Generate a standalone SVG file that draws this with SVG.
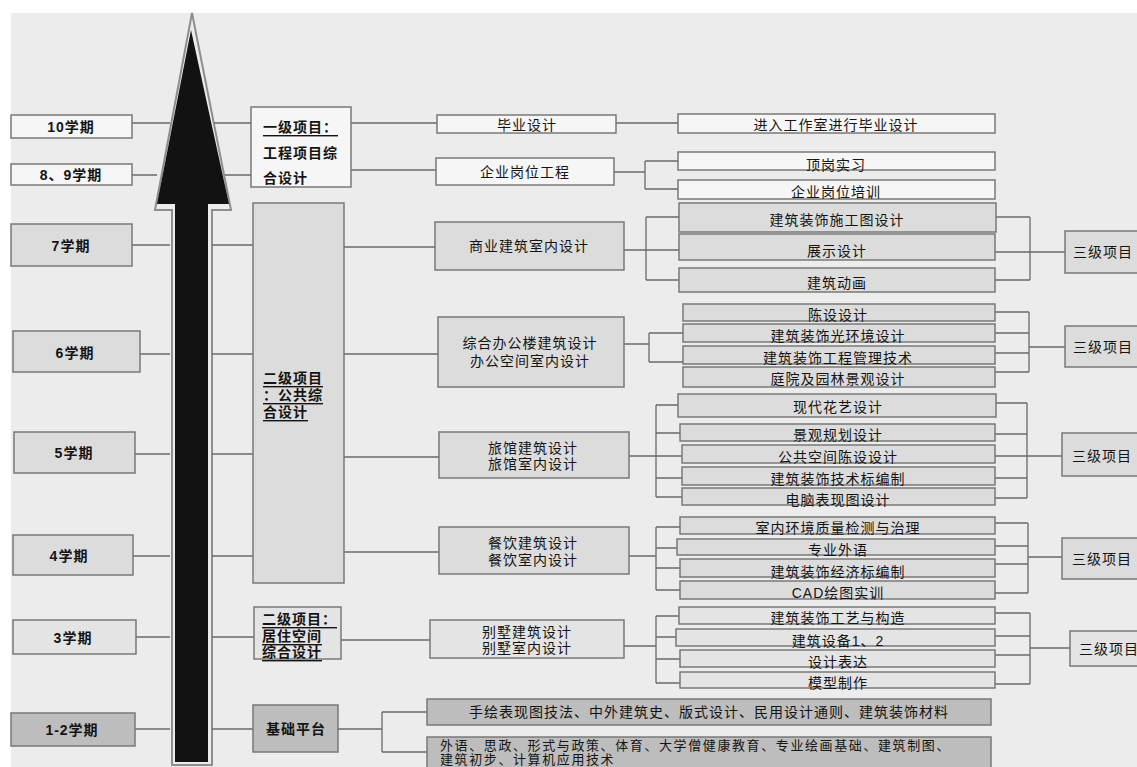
<svg xmlns="http://www.w3.org/2000/svg" width="1137" height="767" viewBox="0 0 1137 767">
<style>
.bw{fill:#f6f6f6;stroke:#787878;stroke-width:1.5}
.g1{fill:#dcdcdc;stroke:#787878;stroke-width:1.5}
.g2{fill:#e4e4e4;stroke:#787878;stroke-width:1.5}
.g3{fill:#bdbdbd;stroke:#787878;stroke-width:1.5}
.ln{stroke:#6a6a6a;stroke-width:1.3;fill:none}
text{font-family:"Liberation Sans","Noto Sans CJK SC",sans-serif;font-size:14px;fill:#141414;dominant-baseline:central;letter-spacing:1px}
.c{text-anchor:middle}
.b{font-weight:bold}
.u{text-decoration:underline}
.s{font-size:13px;letter-spacing:1.6px}
</style>
<rect x="0" y="0" width="1137" height="767" fill="#ffffff"/>
<rect x="11" y="13" width="1126" height="754" fill="#ececec"/>

<g id="arrow">
<polygon points="192,13 155,210 172,210 172,765 212,765 212,210 231,210" fill="none" stroke="#8e8e8e" stroke-width="2"/>
<polygon points="191,30 157,204 175,204 175,762 208,762 208,204 229,204" fill="#121212"/>
</g>

<g id="connectors" class="ln">
<path d="M132,123H170M132,175H157M132,245H170M140,354H170M135,454H170M133,556H170M136,637H170M135,729H170"/>
<path d="M214,123H251M225,175H251M212,245H253M212,354H253M212,454H253M212,556H253M212,637H254M212,729H253"/>
<path d="M351,123H437M351,170H436M616,123H678"/>
<path d="M614,172H645M645,161V189M645,161H678M645,189H678"/>
<path d="M344,247H435M344,354H438M344,457H439M344,552H439M341,640H430"/>
<path d="M624,250H646M646,217V280M646,217H679M646,250H679M646,280H679"/>
<path d="M995,217H1030M995,252H1030M995,280H1030M1030,217V280M1030,252H1065"/>
<path d="M624,344H649M649,333V362M649,333H683M649,362H683"/>
<path d="M995,312H1029M995,333H1029M995,353H1029M995,372H1029M1029,312V372M1029,347H1065"/>
<path d="M629,456H656M656,405V497M656,405H678M656,433H680M656,456H682M656,478H682M656,497H682"/>
<path d="M995,403H1027M995,434H1027M995,456H1027M995,478H1027M995,498H1027M1027,403V498M1027,456H1062"/>
<path d="M629,556H656M656,527V590M656,527H680M656,548H677M656,568H680M656,590H680"/>
<path d="M995,523H1028M995,546H1028M995,564H1028M995,593H1028M1028,523V593M1028,557H1062"/>
<path d="M624,646H656M656,616V683M656,616H679M656,637H676M656,659H680M656,683H680"/>
<path d="M995,613H1030M995,636H1030M995,655H1030M995,684H1030M1030,613V684M1030,648H1070"/>
<path d="M338,729H382M382,712V752M382,712H427M382,752H427"/>
</g>

<g id="sem10"><rect class="bw" x="11" y="115" width="121" height="23"/><text class="c b" x="71" y="127">10学期</text></g>
<g id="sem89"><rect class="bw" x="11" y="164" width="121" height="21"/><text class="c b" x="71" y="175">8、9学期</text></g>
<g id="sem7"><rect class="g1" x="11" y="224" width="121" height="42"/><text class="c b" x="71" y="246">7学期</text></g>
<g id="sem6"><rect class="g1" x="13" y="331" width="127" height="41"/><text class="c b" x="75" y="353">6学期</text></g>
<g id="sem5"><rect class="g1" x="14" y="432" width="121" height="41"/><text class="c b" x="74" y="453">5学期</text></g>
<g id="sem4"><rect class="g1" x="13" y="535" width="120" height="40"/><text class="c b" x="69" y="556">4学期</text></g>
<g id="sem3"><rect class="g2" x="13" y="620" width="123" height="34"/><text class="c b" x="73" y="638">3学期</text></g>
<g id="sem12"><rect class="g3" x="11" y="713" width="124" height="33"/><text class="c b" x="72" y="730">1-2学期</text></g>

<g id="lvl1"><rect class="bw" x="251" y="107" width="100" height="80"/>
<text class="b u" x="263" y="127">一级项目：</text><text class="b" x="263" y="153">工程项目综</text><text class="b" x="263" y="178">合设计</text></g>
<g id="lvl2a"><rect class="g1" x="253" y="203" width="91" height="380"/>
<text class="b u" x="263" y="378">二级项目</text><text class="b u" x="263" y="395">：公共综</text><text class="b u" x="263" y="412">合设计</text></g>
<g id="lvl2b"><rect class="g2" x="254" y="607" width="87" height="52"/>
<text class="b u" x="262" y="619">二级项目：</text><text class="b u" x="262" y="636">居住空间</text><text class="b u" x="262" y="652">综合设计</text></g>
<g id="base"><rect class="g3" x="253" y="705" width="85" height="47"/><text class="c b" x="296" y="729">基础平台</text></g>

<g id="n_biye"><rect class="bw" x="437" y="115" width="179" height="18"/><text class="c" x="527" y="125">毕业设计</text></g>
<g id="n_jinru"><rect class="bw" x="678" y="114" width="317" height="19"/><text class="c" x="836" y="125">进入工作室进行毕业设计</text></g>
<g id="n_qiye"><rect class="bw" x="436" y="158" width="178" height="27"/><text class="c" x="525" y="172">企业岗位工程</text></g>
<g id="n_dinggang"><rect class="bw" x="678" y="152" width="317" height="18"/><text class="c" x="836" y="165">顶岗实习</text></g>
<g id="n_peixun"><rect class="bw" x="678" y="180" width="317" height="19"/><text class="c" x="836" y="192">企业岗位培训</text></g>

<g id="n_shangye"><rect class="g1" x="435" y="222" width="189" height="48"/><text class="c" x="529" y="246">商业建筑室内设计</text></g>
<g id="n_sgt"><rect class="g1" x="679" y="203" width="317" height="29"/><text class="c" x="837" y="220">建筑装饰施工图设计</text></g>
<g id="n_zhanshi"><rect class="g1" x="679" y="234" width="316" height="26"/><text class="c" x="837" y="251">展示设计</text></g>
<g id="n_donghua"><rect class="g1" x="679" y="268" width="316" height="24"/><text class="c" x="837" y="283">建筑动画</text></g>
<g id="l3a"><rect class="g1" x="1065" y="231" width="90" height="42"/><text x="1073" y="252">三级项目</text></g>

<g id="n_bangong"><rect class="g1" x="438" y="317" width="186" height="70"/><text class="c" x="530" y="343">综合办公楼建筑设计</text><text class="c" x="530" y="361">办公空间室内设计</text></g>
<g id="n_chenshe"><rect class="g1" x="683" y="304" width="312" height="17"/><text class="c" x="838" y="315">陈设设计</text></g>
<g id="n_guang"><rect class="g1" x="683" y="324" width="312" height="18"/><text class="c" x="838" y="336">建筑装饰光环境设计</text></g>
<g id="n_guanli"><rect class="g1" x="683" y="346" width="312" height="18"/><text class="c" x="838" y="358">建筑装饰工程管理技术</text></g>
<g id="n_tingyuan"><rect class="g1" x="683" y="367" width="312" height="20"/><text class="c" x="838" y="379">庭院及园林景观设计</text></g>
<g id="l3b"><rect class="g1" x="1065" y="326" width="90" height="41"/><text x="1073" y="347">三级项目</text></g>

<g id="n_lvguan"><rect class="g1" x="439" y="432" width="190" height="46"/><text class="c" x="533" y="448">旅馆建筑设计</text><text class="c" x="533" y="464">旅馆室内设计</text></g>
<g id="n_huayi"><rect class="g1" x="678" y="394" width="318" height="23"/><text class="c" x="838" y="407">现代花艺设计</text></g>
<g id="n_guihua"><rect class="g1" x="680" y="424" width="315" height="17"/><text class="c" x="838" y="435">景观规划设计</text></g>
<g id="n_gonggong"><rect class="g1" x="682" y="445" width="313" height="18"/><text class="c" x="838" y="457">公共空间陈设设计</text></g>
<g id="n_jishubiao"><rect class="g1" x="682" y="467" width="313" height="18"/><text class="c" x="838" y="479">建筑装饰技术标编制</text></g>
<g id="n_diannao"><rect class="g1" x="682" y="488" width="313" height="17"/><text class="c" x="838" y="500">电脑表现图设计</text></g>
<g id="l3c"><rect class="g1" x="1062" y="433" width="90" height="43"/><text x="1072" y="456">三级项目</text></g>

<g id="n_canyin"><rect class="g1" x="439" y="527" width="190" height="47"/><text class="c" x="533" y="543">餐饮建筑设计</text><text class="c" x="533" y="560">餐饮室内设计</text></g>
<g id="n_huanjing"><rect class="g1" x="680" y="517" width="315" height="17"/><text class="c" x="838" y="528">室内环境质量检测与治理</text></g>
<g id="n_waiyu"><rect class="g1" x="677" y="539" width="318" height="16"/><text class="c" x="838" y="550">专业外语</text></g>
<g id="n_jingji"><rect class="g1" x="680" y="559" width="315" height="18"/><text class="c" x="838" y="572">建筑装饰经济标编制</text></g>
<g id="n_cad"><rect class="g1" x="680" y="581" width="315" height="18"/><text class="c" x="838" y="593">CAD绘图实训</text></g>
<g id="l3d"><rect class="g1" x="1062" y="538" width="90" height="41"/><text x="1072" y="559">三级项目</text></g>

<g id="n_bieshu"><rect class="g2" x="430" y="620" width="194" height="38"/><text class="c" x="527" y="632">别墅建筑设计</text><text class="c" x="527" y="648">别墅室内设计</text></g>
<g id="n_gouzao"><rect class="g2" x="679" y="607" width="316" height="17"/><text class="c" x="838" y="618">建筑装饰工艺与构造</text></g>
<g id="n_shebei"><rect class="g2" x="676" y="629" width="319" height="17"/><text class="c" x="838" y="641">建筑设备1、2</text></g>
<g id="n_biaoda"><rect class="g2" x="680" y="650" width="315" height="17"/><text class="c" x="838" y="662">设计表达</text></g>
<g id="n_moxing"><rect class="g2" x="680" y="672" width="315" height="16"/><text class="c" x="838" y="683">模型制作</text></g>
<g id="l3e"><rect class="g2" x="1070" y="631" width="90" height="35"/><text x="1079" y="649">三级项目</text></g>

<g id="n_shouhui"><rect class="g3" x="427" y="699" width="564" height="26"/><text class="c" x="709" y="712">手绘表现图技法、中外建筑史、版式设计、民用设计通则、建筑装饰材料</text></g>
<g id="n_gonggongke"><rect class="g3" x="427" y="737" width="564" height="40"/><text class="s" x="440" y="745">外语、思政、形式与政策、体育、大学僧健康教育、专业绘画基础、建筑制图、</text><text class="s" x="440" y="759">建筑初步、计算机应用技术</text></g>
</svg>
